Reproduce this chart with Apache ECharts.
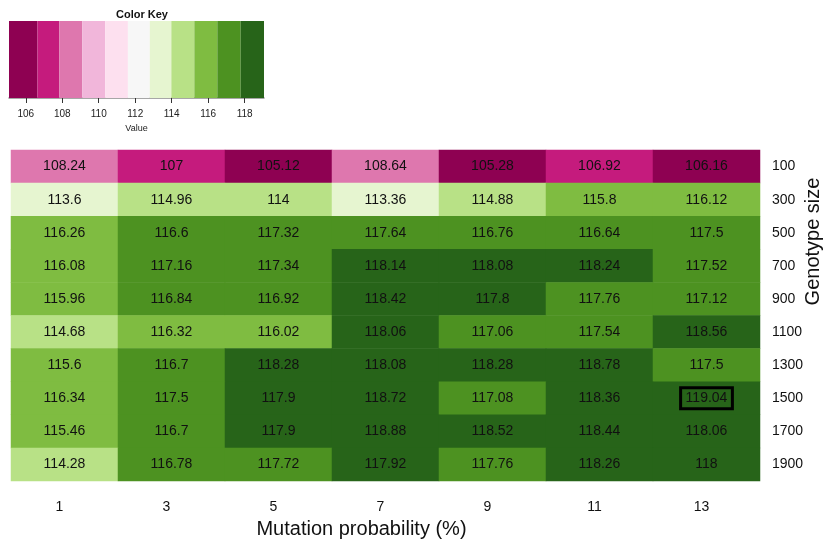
<!DOCTYPE html>
<html>
<head>
<meta charset="utf-8">
<script src="https://cdn.jsdelivr.net/npm/echarts@6/dist/echarts.min.js"></script>
<style>
  html, body { margin: 0; padding: 0; background: #fff; }
  #chart { width: 823px; height: 545px; }
</style>
</head>
<body>
<div id="chart"></div>
<script>
// Mutation probability (%) along the columns
const mutationProb = ['1', '3', '5', '7', '9', '11', '13'];
// Genotype size along the rows (top to bottom)
const genotypeSize = ['100', '300', '500', '700', '900', '1100', '1300', '1500', '1700', '1900'];

// One array per genotype size, one value per mutation probability
const row100  = [108.24, 107, 105.12, 108.64, 105.28, 106.92, 106.16];
const row300  = [113.6, 114.96, 114, 113.36, 114.88, 115.8, 116.12];
const row500  = [116.26, 116.6, 117.32, 117.64, 116.76, 116.64, 117.5];
const row700  = [116.08, 117.16, 117.34, 118.14, 118.08, 118.24, 117.52];
const row900  = [115.96, 116.84, 116.92, 118.42, 117.8, 117.76, 117.12];
const row1100 = [114.68, 116.32, 116.02, 118.06, 117.06, 117.54, 118.56];
const row1300 = [115.6, 116.7, 118.28, 118.08, 118.28, 118.78, 117.5];
const row1500 = [116.34, 117.5, 117.9, 118.72, 117.08, 118.36, 119.04];
const row1700 = [115.46, 116.7, 117.9, 118.88, 118.52, 118.44, 118.06];
const row1900 = [114.28, 116.78, 117.72, 117.92, 117.76, 118.26, 118];
const rows = [row100, row300, row500, row700, row900, row1100, row1300, row1500, row1700, row1900];

// Diverging PiYG palette and the colour-key bin edges (one more edge than colours)
const palette = ['#8E0152', '#C51B7D', '#DE77AE', '#F1B6DA', '#FDE0EF', '#F7F7F7',
                 '#E6F5D0', '#B8E186', '#7FBC41', '#4D9221', '#276419'];
const colorBreaks = [105.08, 106.64, 107.84, 109.1, 110.35, 111.6, 112.8,
                     113.98, 115.24, 116.5, 117.78, 119.06];
const keyTicks = [106, 108, 110, 112, 114, 116, 118];

const pieces = palette.map((c, i) => (
  i === palette.length - 1
    ? { gte: colorBreaks[i], lte: colorBreaks[i + 1], color: c }
    : { gte: colorBreaks[i], lt: colorBreaks[i + 1], color: c }
));
const keyBins = palette.map((c, i) => [colorBreaks[i], colorBreaks[i + 1], i]);

let maxVal = -Infinity;
rows.forEach(r => r.forEach(v => { if (v > maxVal) maxVal = v; }));

const cells = [];
rows.forEach((r, yi) => {
  r.forEach((v, xi) => {
    const item = { value: [xi, yi, v] };
    if (v === maxVal) {
      // outline the best cell
      item.label = {
        borderColor: '#000',
        borderWidth: 3,
        padding: [4, 5, 3, 5]
      };
    }
    cells.push(item);
  });
});

const chart = echarts.init(document.getElementById('chart'));
chart.setOption({
  animation: false,
  backgroundColor: '#fff',
  textStyle: { fontFamily: 'Liberation Sans, Arial, sans-serif' },
  title: {
    text: 'Color Key',
    left: 137, top: 4, textAlign: 'center',
    textStyle: { fontSize: 11, fontWeight: 'bold', color: '#111' }
  },
  grid: [
    { left: 11, right: 63, top: 150, bottom: 64, outerBoundsMode: 'none', containLabel: false },
    { left: 9, top: 21, width: 255, height: 77, outerBoundsMode: 'none', containLabel: false }
  ],
  xAxis: [
    {
      gridIndex: 0, type: 'category', data: mutationProb, position: 'bottom',
      axisLine: { show: false }, axisTick: { show: false }, splitLine: { show: false },
      axisLabel: { fontSize: 14, color: '#111', margin: 19, padding: [0, 10, 0, 0] },
      name: 'Mutation probability (%)', nameLocation: 'middle', nameGap: 38,
      nameMoveOverlap: false,
      nameTextStyle: { fontSize: 20, color: '#111', padding: [0, 48, 0, 0] }
    },
    {
      gridIndex: 1, type: 'value',
      min: colorBreaks[0], max: colorBreaks[colorBreaks.length - 1],
      splitLine: { show: false },
      axisLine: { show: true, lineStyle: { color: '#8a8a8a', width: 1.5 } },
      axisTick: { show: true, customValues: keyTicks, length: 5, lineStyle: { color: '#333' } },
      axisLabel: { customValues: keyTicks, fontSize: 10, color: '#222', margin: 11 },
      name: 'Value', nameLocation: 'middle', nameGap: 26, nameMoveOverlap: false,
      nameTextStyle: { fontSize: 9, color: '#222' }
    }
  ],
  yAxis: [
    {
      gridIndex: 0, type: 'category', data: genotypeSize, inverse: true, position: 'right',
      axisLine: { show: false }, axisTick: { show: false }, splitLine: { show: false },
      axisLabel: { fontSize: 14, color: '#111', margin: 12 },
      name: 'Genotype size', nameLocation: 'middle', nameGap: 43, nameRotate: 90,
      nameMoveOverlap: false,
      nameTextStyle: { fontSize: 20, color: '#111', padding: [0, 0, 0, 148] }
    },
    {
      gridIndex: 1, type: 'value', min: 0, max: 1, show: false
    }
  ],
  visualMap: {
    type: 'piecewise', show: false, dimension: 2, seriesIndex: 0, pieces: pieces
  },
  series: [
    {
      type: 'heatmap', xAxisIndex: 0, yAxisIndex: 0, data: cells,
      label: {
        show: true, fontSize: 14, color: '#111',
        formatter: p => String(p.value[2])
      },
      itemStyle: { borderWidth: 0 },
      emphasis: { disabled: true }
    },
    {
      type: 'custom', xAxisIndex: 1, yAxisIndex: 1, data: keyBins,
      renderItem: (params, api) => {
        const p0 = api.coord([api.value(0), 1]);
        const p1 = api.coord([api.value(1), 0]);
        return {
          type: 'rect',
          shape: { x: p0[0], y: p0[1], width: p1[0] - p0[0], height: p1[1] - p0[1] },
          style: { fill: palette[api.value(2)], stroke: null }
        };
      },
      silent: true
    }
  ]
});
</script>
</body>
</html>
